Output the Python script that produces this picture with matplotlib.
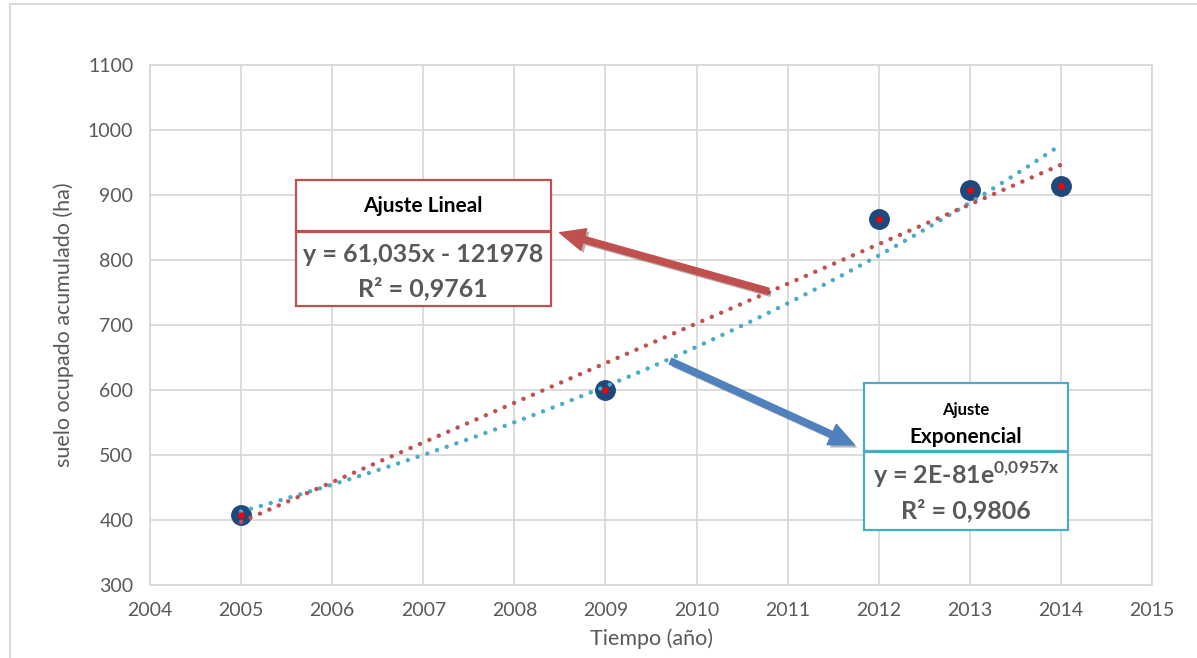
import numpy as np
import matplotlib
matplotlib.use("Agg")
import matplotlib.pyplot as plt
from matplotlib.patches import Rectangle, FancyArrowPatch
import matplotlib.patheffects as pe

plt.rcParams['font.family'] = ['Lato', 'DejaVu Sans']
plt.rcParams['mathtext.fontset'] = 'custom'
plt.rcParams['mathtext.rm'] = 'Lato'
plt.rcParams['mathtext.bf'] = 'Lato:bold'

# datos
anios = [2005, 2009, 2012, 2013, 2014]
suelo = [408, 600, 863, 907, 914]

lin_pend, lin_orig = 61.035, -121978
x_ticks = list(range(2004, 2016))
y_ticks = list(range(300, 1101, 100))

W, H = 1197, 658
fig = plt.figure(figsize=(W / 100, H / 100), dpi=100)


def px(x, y):
    return (x / W, 1 - y / H)


ax = fig.add_axes([150 / W, 1 - 585 / H, (1152 - 150) / W, (585 - 65) / H])
ax.set_xlim(2004, 2015)
ax.set_ylim(300, 1100)
ax.set_xticks(x_ticks)
ax.set_yticks(y_ticks)
ax.grid(True, color='#D9D9D9', linewidth=1.3)
ax.set_axisbelow(True)
for s in ax.spines.values():
    s.set_color('#D9D9D9')
    s.set_linewidth(1.3)
ax.tick_params(length=0, labelsize=14, labelcolor='#595959', pad=12)
ax.set_xlabel('Tiempo (año)', fontsize=15.5, color='#595959', labelpad=7)
ax.set_ylabel('suelo ocupado acumulado (ha)', fontsize=15.5, color='#595959', labelpad=10)

# puntos
ax.plot(anios, suelo, 'o', color='#1F497D', markersize=14, zorder=3)

# tendencias
xt = np.linspace(anios[0], anios[-1], 200)
y_lin = lin_pend * xt + lin_orig
b, a = np.polyfit(anios, np.log(suelo), 1)
y_exp = np.exp(a + b * xt)
ax.plot(xt, y_exp, color='#4BACC6', lw=3.2, linestyle=(0, (0.01, 2.3)),
        dash_capstyle='round', zorder=4)
ax.plot(xt, y_lin, color='#C0504D', lw=3.2, linestyle=(0, (0.01, 2.3)),
        dash_capstyle='round', zorder=4)
ax.plot(anios, suelo, 'o', color='#FF0000', markersize=3.5, zorder=5)

# marco del grafico
fig.add_artist(Rectangle(px(10, 700), (W + 20) / W, (700 - 4) / H,
                         transform=fig.transFigure, fill=False,
                         edgecolor='#D9D9D9', lw=1.5))


def caja(x0, y0, x1, y1, color):
    fig.add_artist(Rectangle(px(x0, y1), (x1 - x0) / W, (y1 - y0) / H,
                             transform=fig.transFigure, facecolor='white',
                             edgecolor=color, lw=1.6, zorder=6))


rojo, cian = '#C0504D', '#4BACC6'
gris = '#595959'

caja(296, 180, 551, 231, rojo)
caja(296, 232, 551, 306, rojo)
fig.text(*px(423, 206), 'Ajuste Lineal', ha='center', va='center',
         fontsize=15, fontweight='bold', color='black', zorder=7)
fig.text(*px(423, 254), 'y = 61,035x - 121978', ha='center', va='center',
         fontsize=18, fontweight='bold', color=gris, zorder=7)
fig.text(*px(423, 289), 'R² = 0,9761', ha='center', va='center',
         fontsize=18, fontweight='bold', color=gris, zorder=7)

caja(864, 383, 1068, 451, cian)
caja(864, 452, 1068, 530, cian)
fig.text(*px(966, 410), 'Ajuste', ha='center', va='center',
         fontsize=12, fontweight='bold', color='black', zorder=7)
fig.text(*px(966, 437), 'Exponencial', ha='center', va='center',
         fontsize=15, fontweight='bold', color='black', zorder=7)
fig.text(*px(966, 475), r'y = 2E-81e$^{\mathbf{0{,}0957x}}$', ha='center', va='center',
         fontsize=18, fontweight='bold', color=gris, zorder=7)
fig.text(*px(966, 511), 'R² = 0,9806', ha='center', va='center',
         fontsize=18, fontweight='bold', color=gris, zorder=7)

# flechas
sombra = [pe.SimplePatchShadow(offset=(2, -2), alpha=0.35), pe.Normal()]
for (x0, y0), (x1, y1), c in [((771, 292), (557, 232), rojo),
                              ((668, 360), (857, 446), '#4F81BD')]:
    fl = FancyArrowPatch(px(x0, y0), px(x1, y1), transform=fig.transFigure,
                         arrowstyle='simple,head_length=18,head_width=16,tail_width=4.5',
                         mutation_scale=1, color=c, zorder=8)
    fl.set_path_effects(sombra)
    fig.add_artist(fl)

fig.savefig('out.png', dpi=100)
